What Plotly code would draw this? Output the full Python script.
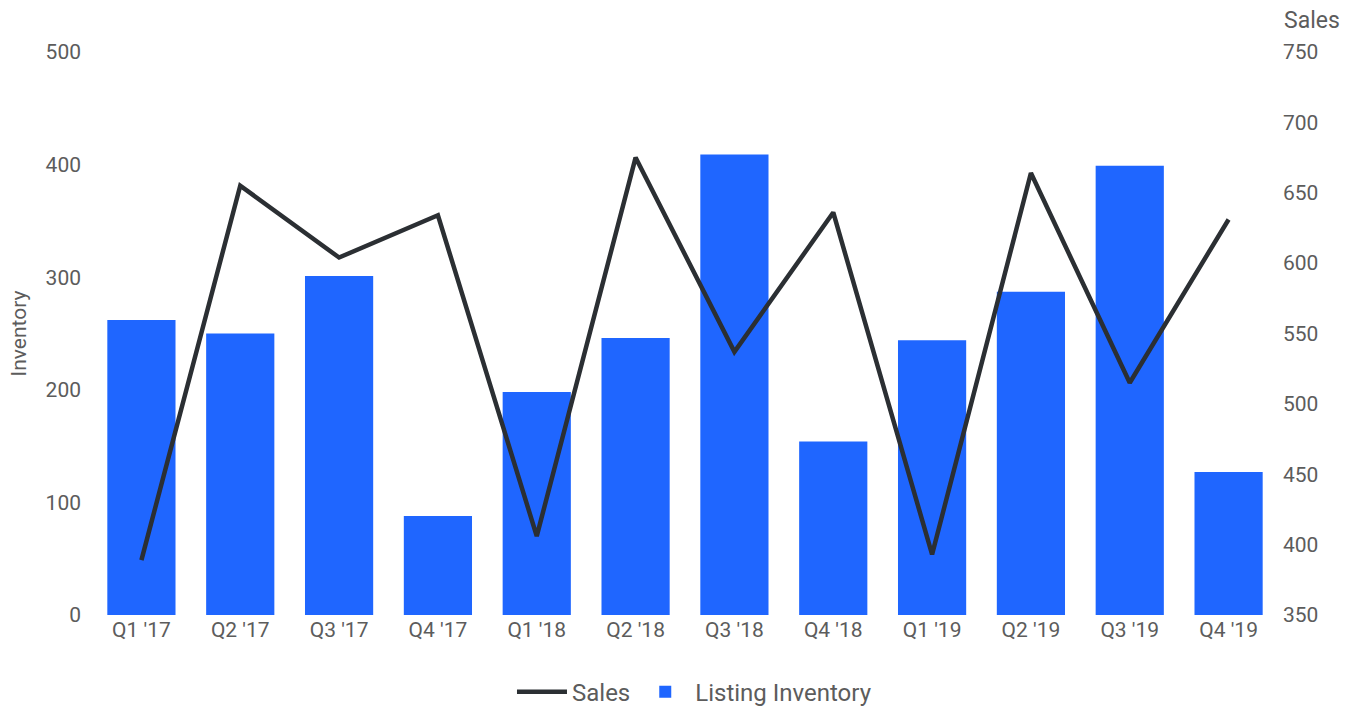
import plotly.graph_objects as go

# données
quarters = ["Q1 '17", "Q2 '17", "Q3 '17", "Q4 '17",
            "Q1 '18", "Q2 '18", "Q3 '18", "Q4 '18",
            "Q1 '19", "Q2 '19", "Q3 '19", "Q4 '19"]
inventory = [262, 250, 301, 88, 198, 246, 409, 154, 244, 287, 399, 127]
sales = [389, 655, 604, 634, 406, 675, 537, 636, 393, 664, 515, 631]

font_color = "#5c5c5c"

fig = go.Figure()

fig.add_trace(go.Bar(x=quarters, y=inventory, name="Listing Inventory",
                     marker=dict(color="#1f66ff", line=dict(width=0)),
                     yaxis="y"))

fig.add_trace(go.Scatter(x=quarters, y=sales, name="Sales", mode="lines",
                         line=dict(color="#2b2f33", width=4.5),
                         yaxis="y2"))

# la page html ajoute une marge de 8px autour de la figure
fig.update_layout(
    width=1354, height=698,
    margin=dict(l=84, r=84, t=44, b=91, autoexpand=False),
    plot_bgcolor="white", paper_bgcolor="white",
    font=dict(family="Roboto", size=21, color=font_color),
    bargap=0.31,
    showlegend=True,
    legend=dict(orientation="h", x=0.508, xanchor="center",
                yref="container", y=0.02, yanchor="middle",
                font=dict(size=24), traceorder="reversed", itemwidth=50),
    xaxis=dict(showgrid=False, showline=False, ticks="", automargin=False,
               tickfont=dict(size=21)),
    yaxis=dict(range=[0, 500], dtick=100, showgrid=False, zeroline=False,
               automargin=False, ticklabelstandoff=10),
    yaxis2=dict(range=[350, 750], dtick=50, overlaying="y", side="right",
                showgrid=False, zeroline=False, automargin=False,
                ticklabelstandoff=4),
    annotations=[
        dict(text="Sales", x=1.0, xref="paper", y=1.0, yref="paper",
             xanchor="left", yanchor="middle", xshift=4, yshift=32,
             showarrow=False, font=dict(size=23, color=font_color)),
        dict(text="Inventory", x=0, xref="paper", y=0.5, yref="paper",
             xanchor="center", yanchor="middle", xshift=-74, textangle=-90,
             showarrow=False, font=dict(size=21, color=font_color)),
    ],
)

fig.write_html("out.html")
